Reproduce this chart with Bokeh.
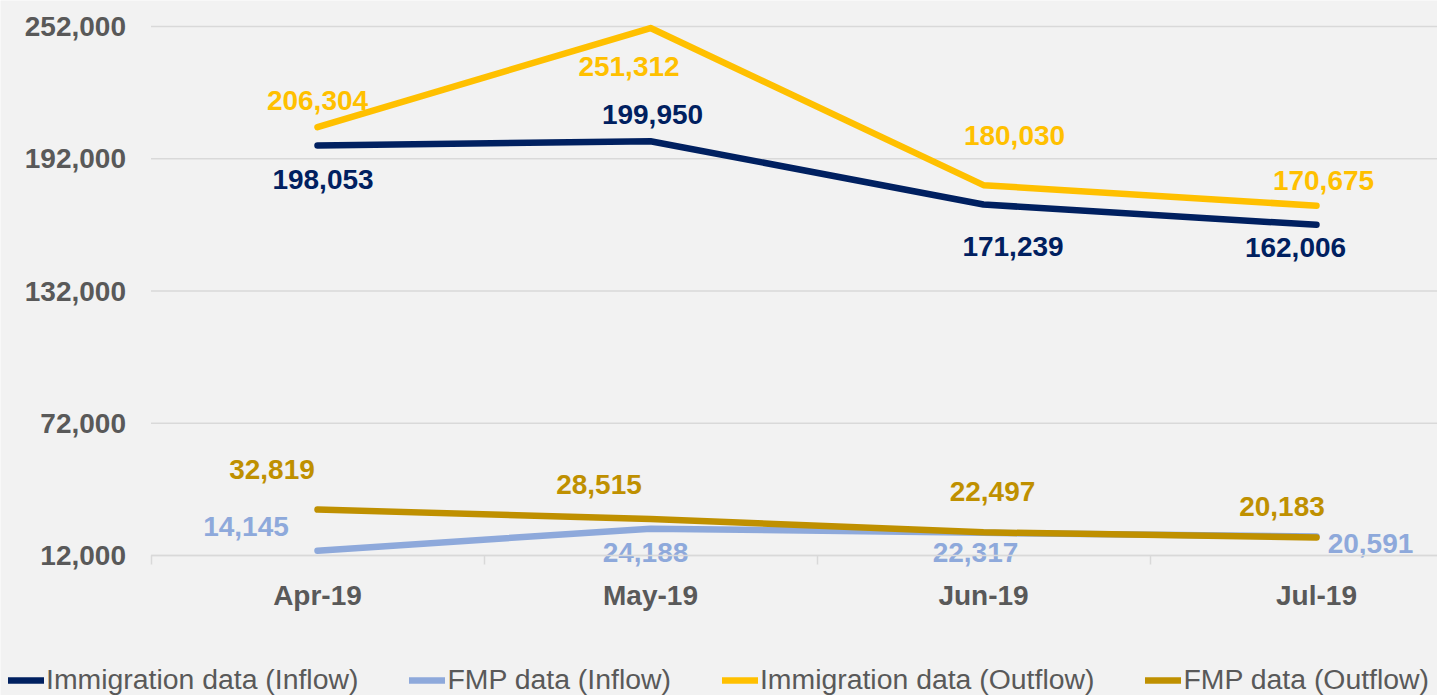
from bokeh.plotting import figure
from bokeh.models import (ColumnDataSource, Range1d, FixedTicker, NumeralTickFormatter,
                          Legend, LegendItem)
from bokeh.core.properties import value
from bokeh.embed import file_html
from bokeh.resources import INLINE

# ---- data ----
months = ["Apr-19", "May-19", "Jun-19", "Jul-19"]
immigration_inflow = [198053, 199950, 171239, 162006]
fmp_inflow = [14145, 24188, 22317, 20591]
immigration_outflow = [206304, 251312, 180030, 170675]
fmp_outflow = [32819, 28515, 22497, 20183]
y_ticks = [12000, 72000, 132000, 192000, 252000]

# ---- label placement (screen pixels relative to the point, +dy = down) ----
label_dx = {
    "imm_in": [5.5, 2, 29.5, -21],
    "fmp_in": [-71.5, -5, -8, 54],
    "imm_out": [0, -21.5, 31, 7],
    "fmp_out": [-45.5, -51.5, 9, -34.5],
}
label_dy = {
    "imm_in": [34, -27, 42, 23],
    "fmp_in": [-24, 24, 20, 7],
    "imm_out": [-27, 38.5, -49.6, -25],
    "fmp_out": [-40, -34.6, -41, -30.5],
}

FONT = "Liberation Sans"
GRAY = "#595959"
BG = "#f2f2f2"
GRID = "#d9d9d9"

W, H = 1437, 695
# frame covers the whole canvas; category i sits at 317 + 333*i px,
# value v at 555 - (v - 12000) * 529/240000 px
k = 529 / 240000
x_start, x_end = -317 / 333, (W - 317) / 333
y_end = 12000 + 555 / k
y_start = 12000 - (H - 555) / k

p = figure(width=W, height=H, output_backend="svg", toolbar_location=None,
           x_range=Range1d(x_start, x_end), y_range=Range1d(y_start, y_end),
           min_border=0)
p.background_fill_color = BG
p.border_fill_color = BG
p.outline_line_color = None
p.xgrid.grid_line_color = None
p.ygrid.grid_line_color = None

# horizontal gridlines, starting at the plot's left edge
p.segment(x0=-0.5, x1=x_end, y0="y", y1="y", source=ColumnDataSource(dict(y=y_ticks)),
          line_color=GRID, line_width=1.5)

x_idx = list(range(len(months)))

series = [
    ("imm_in", "Immigration data (Inflow)", immigration_inflow, "#002060"),
    ("fmp_in", "FMP data (Inflow)", fmp_inflow, "#8EA9DB"),
    ("imm_out", "Immigration data (Outflow)", immigration_outflow, "#FFC000"),
    ("fmp_out", "FMP data (Outflow)", fmp_outflow, "#BF9000"),
]

items = []
label_sources = []
for key, name, vals, color in series:
    src = ColumnDataSource(dict(
        x=x_idx, y=vals,
        label=["{:,}".format(v) for v in vals],
        dx=label_dx[key], dy=label_dy[key],
    ))
    r = p.line("x", "y", source=src, line_color=color, line_width=6.5,
               line_cap="round", line_join="round")
    items.append(LegendItem(label=name, renderers=[r]))
    label_sources.append((src, color))

for src, color in label_sources:
    p.text("x", "y", text="label", source=src, x_offset="dx", y_offset="dy",
           text_align="center", text_baseline="middle",
           text_font=value(FONT), text_font_size="28px", text_font_style="bold",
           text_color=color)

# ---- axes (fixed inside the full-canvas frame) ----
xa = p.xaxis[0]
xa.fixed_location = 12000
xa.bounds = (-0.5, x_end)
xa.ticker = FixedTicker(ticks=x_idx, minor_ticks=[-0.5, 0.5, 1.5, 2.5, 3.5])
xa.major_label_overrides = {i: m for i, m in enumerate(months)}
xa.major_label_text_font = FONT
xa.major_label_text_font_size = "28px"
xa.major_label_text_font_style = "bold"
xa.major_label_text_color = GRAY
xa.major_label_standoff = 15
xa.major_tick_line_color = None
xa.major_tick_out = 0
xa.major_tick_in = 0
xa.minor_tick_line_color = GRID
xa.minor_tick_line_width = 1.5
xa.minor_tick_out = 9
xa.minor_tick_in = 0
xa.axis_line_color = GRID
xa.axis_line_width = 1.5

ya = p.yaxis[0]
ya.fixed_location = -0.5
ya.bounds = (12000, 252000)
ya.ticker = FixedTicker(ticks=y_ticks)
ya.formatter = NumeralTickFormatter(format="0,0")
ya.major_label_text_font = FONT
ya.major_label_text_font_size = "28px"
ya.major_label_text_font_style = "bold"
ya.major_label_text_color = GRAY
ya.major_label_standoff = 25
ya.major_tick_line_color = None
ya.major_tick_out = 0
ya.major_tick_in = 0
ya.minor_tick_line_color = None
ya.axis_line_color = None

legend = Legend(items=items, orientation="horizontal", location=(8, -1),
                glyph_width=36, glyph_height=20, label_height=20, label_standoff=2,
                spacing=51, padding=0, margin=0,
                background_fill_alpha=0, border_line_alpha=0,
                label_text_font=FONT, label_text_font_size="28.4px",
                label_text_color=GRAY, label_text_baseline="middle")
p.add_layout(legend, "center")

open("out.html", "w").write(file_html(p, INLINE))
